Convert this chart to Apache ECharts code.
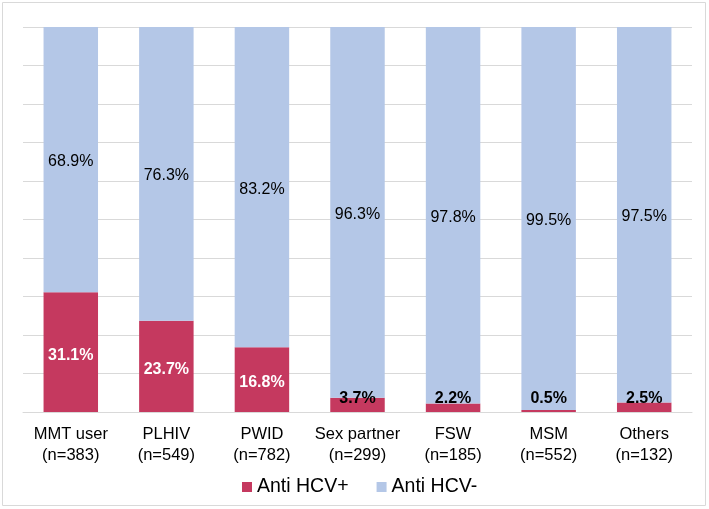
<!DOCTYPE html>
<html>
<head>
<meta charset="utf-8">
<script src="https://cdn.jsdelivr.net/npm/echarts@6/dist/echarts.min.js"></script>
<style>
    html, body { margin: 0; padding: 0; background: #fff; }
    #chart { width: 709px; height: 509px; }
</style>
</head>
<body>
<div id="chart"></div>
<script>
// 各组人群
var categories = ['MMT user\n(n=383)', 'PLHIV\n(n=549)', 'PWID\n(n=782)', 'Sex partner\n(n=299)', 'FSW\n(n=185)', 'MSM\n(n=552)', 'Others\n(n=132)'];
var positive = [31.1, 23.7, 16.8, 3.7, 2.2, 0.5, 2.5];
var negative = [68.9, 76.3, 83.2, 96.3, 97.8, 99.5, 97.5];

var chart = echarts.init(document.getElementById('chart'));

function pct(p) { return p.value.toFixed(1) + '%'; }

var option = {
    animation: false,
    textStyle: { fontFamily: 'Liberation Sans, Arial, sans-serif' },
    graphic: [{
        type: 'rect',
        shape: { x: 2.5, y: 2.5, width: 703, height: 503 },
        style: { fill: 'none', stroke: '#d9d9d9', lineWidth: 1 }
    }],
    legend: {
        data: ['Anti HCV+', 'Anti HCV-'],
        top: 472,
        left: 237,
        itemWidth: 10,
        itemHeight: 10,
        itemGap: 28,
        icon: 'rect',
        textStyle: { fontSize: 19.5, color: '#000' }
    },
    grid: { left: 23, right: 17, top: 27, bottom: 97 },
    xAxis: {
        type: 'category',
        data: categories,
        axisLine: { lineStyle: { color: '#d9d9d9' } },
        axisTick: { show: false },
        axisLabel: { interval: 0, fontSize: 16.5, color: '#000', lineHeight: 21, margin: 12 }
    },
    yAxis: {
        type: 'value',
        min: 0,
        max: 100,
        interval: 10,
        axisLabel: { show: false },
        axisLine: { show: false },
        axisTick: { show: false },
        splitLine: { lineStyle: { color: '#d9d9d9' } }
    },
    series: [
        {
            name: 'Anti HCV+',
            type: 'bar',
            stack: 'total',
            barWidth: '57%',
            itemStyle: { color: '#c5395f' },
            label: {
                show: true,
                position: 'inside',
                fontSize: 16,
                fontWeight: 'bold',
                color: '#fff',
                formatter: pct
            },
            // 小于10%的标签为黑色，放在柱底上方
            data: positive.map(function (v) {
                return {
                    value: v,
                    label: v > 10
                        ? { offset: [0, 3] }
                        : { color: '#000', position: 'insideBottom', distance: 5 }
                };
            })
        },
        {
            name: 'Anti HCV-',
            type: 'bar',
            stack: 'total',
            data: negative,
            itemStyle: { color: '#b4c7e7' },
            label: {
                show: true,
                position: 'inside',
                fontSize: 16,
                color: '#000',
                offset: [0, 2],
                formatter: pct
            }
        }
    ]
};

chart.setOption(option);
</script>
</body>
</html>
